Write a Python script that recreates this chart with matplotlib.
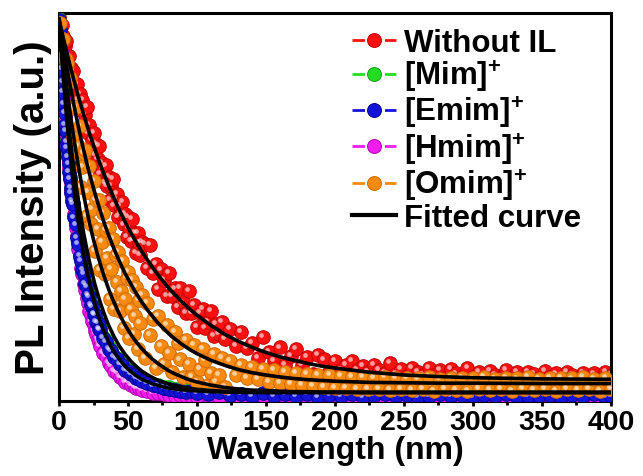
import matplotlib
matplotlib.use('Agg')
import matplotlib.pyplot as plt
import matplotlib.transforms as mtransforms
from matplotlib.lines import Line2D
from matplotlib.ticker import MultipleLocator

plt.rcParams['font.family'] = ['Liberation Sans', 'DejaVu Sans']
plt.rcParams['font.weight'] = 'bold'
plt.rcParams['mathtext.fontset'] = 'custom'
plt.rcParams['mathtext.rm'] = 'Liberation Sans:bold'
plt.rcParams['mathtext.bf'] = 'Liberation Sans:bold'

# sample grids (nm, as labelled on the chart)
x_main = list(range(0, 61)) + list(range(62, 121, 2)) + list(range(124, 401, 4))
x_fine = ([i * 0.5 for i in range(21)] + list(range(11, 31)) + list(range(32, 61, 2))
          + list(range(64, 101, 4)) + list(range(108, 400, 8)) + [400])
x_fit = [0, 2, 4, 6, 8, 10, 12, 14, 16, 18, 20, 22, 24, 26, 28, 30, 32, 34, 36, 38, 40,
         44, 48, 52, 56, 60, 64, 68, 72, 76, 80, 84, 88, 92, 96, 100,
         110, 120, 130, 140, 150, 160, 170, 180, 190, 200, 225, 250, 275, 300, 350, 400]

# measured decays
y_without = [0.990, 0.957, 0.969, 0.941, 0.914, 0.928, 0.890, 0.890, 0.849, 0.858,
             0.851, 0.818, 0.813, 0.817, 0.775, 0.791, 0.755, 0.777, 0.709, 0.736,
             0.758, 0.691, 0.712, 0.645, 0.672, 0.692, 0.633, 0.663, 0.625, 0.657,
             0.584, 0.614, 0.599, 0.562, 0.607, 0.554, 0.577, 0.517, 0.554, 0.572,
             0.504, 0.520, 0.534, 0.474, 0.503, 0.481, 0.512, 0.455, 0.482, 0.423,
             0.474, 0.445, 0.413, 0.468, 0.414, 0.434, 0.382, 0.433, 0.408, 0.376,
             0.410,
             0.405, 0.344, 0.401, 0.331, 0.352, 0.288, 0.339, 0.312, 0.270, 0.329,
             0.271, 0.290, 0.242, 0.291, 0.254, 0.228, 0.283, 0.227, 0.247, 0.191,
             0.227, 0.238, 0.189, 0.204, 0.231, 0.168, 0.199, 0.173, 0.203, 0.159,
             0.185, 0.142, 0.179, 0.136, 0.150, 0.111, 0.164, 0.127, 0.104, 0.138,
             0.092, 0.116, 0.135, 0.094, 0.113, 0.070, 0.118, 0.107, 0.075, 0.104,
             0.081, 0.093, 0.102, 0.080, 0.091, 0.074, 0.094, 0.081, 0.073, 0.098,
             0.069, 0.082, 0.064, 0.084, 0.076, 0.066, 0.086, 0.067, 0.080, 0.060,
             0.082, 0.071, 0.061, 0.085, 0.063, 0.075, 0.059, 0.078, 0.068, 0.061,
             0.079, 0.063, 0.074, 0.056, 0.076, 0.069, 0.058, 0.077, 0.061, 0.071,
             0.056, 0.076, 0.066, 0.058, 0.073, 0.061, 0.071, 0.056, 0.074, 0.067]
y_omim = [0.975, 0.974, 0.931, 0.932, 0.882, 0.881, 0.872, 0.822,
          0.833, 0.758, 0.681, 0.754, 0.759, 0.637, 0.657, 0.709, 0.551, 0.604,
          0.639, 0.648, 0.478, 0.539, 0.605, 0.455, 0.496, 0.566, 0.387, 0.519,
          0.444, 0.518, 0.337, 0.409, 0.485, 0.328, 0.442, 0.368, 0.445, 0.264,
          0.340, 0.418, 0.238, 0.377, 0.306, 0.384, 0.232, 0.283, 0.361, 0.187,
          0.262, 0.316, 0.332, 0.163, 0.237, 0.313, 0.172, 0.220, 0.295, 0.133,
          0.261, 0.200, 0.273,
          0.112, 0.253, 0.170, 0.212, 0.086, 0.218, 0.142, 0.096, 0.197, 0.125,
          0.074, 0.178, 0.150, 0.107, 0.061, 0.157, 0.096, 0.063, 0.144, 0.049,
          0.083, 0.133, 0.106, 0.042, 0.073, 0.120, 0.048, 0.067, 0.112, 0.035,
          0.102, 0.068, 0.094, 0.060, 0.088, 0.056, 0.083, 0.050, 0.079, 0.047,
          0.076, 0.044, 0.073, 0.041, 0.070, 0.038, 0.068, 0.036, 0.066, 0.034,
          0.065, 0.033, 0.063, 0.031, 0.062, 0.032, 0.060, 0.030, 0.061, 0.029,
          0.059, 0.031, 0.060, 0.028, 0.058, 0.030, 0.061, 0.027, 0.057, 0.031,
          0.059, 0.029, 0.060, 0.026, 0.058, 0.030, 0.061, 0.028, 0.057, 0.031,
          0.060, 0.027, 0.058, 0.030, 0.061, 0.028, 0.057, 0.031, 0.059, 0.026,
          0.060, 0.030, 0.058, 0.028, 0.061, 0.031, 0.057, 0.027, 0.059, 0.030]
y_mim = [0.984, 0.959, 0.929, 0.894, 0.860, 0.826, 0.801, 0.769, 0.746, 0.716,
         0.701, 0.672, 0.656, 0.632, 0.616, 0.594, 0.576, 0.552, 0.541, 0.519, 0.511,
         0.477, 0.459, 0.424, 0.409, 0.378, 0.366, 0.342, 0.331, 0.306, 0.298,
         0.278, 0.272, 0.251, 0.247, 0.228, 0.225, 0.207, 0.204, 0.190, 0.187,
         0.166, 0.157, 0.139, 0.132, 0.117, 0.112, 0.100, 0.096, 0.084, 0.082,
         0.073, 0.070, 0.063, 0.061, 0.055,
         0.051, 0.044, 0.042, 0.037, 0.036, 0.032, 0.031, 0.028, 0.029, 0.025,
         0.015, 0.019, 0.012, 0.017, 0.011, 0.016, 0.013, 0.010, 0.015, 0.012,
         0.017, 0.011, 0.014, 0.010, 0.016, 0.012, 0.015, 0.010, 0.013, 0.016,
         0.011, 0.014, 0.010, 0.015, 0.012, 0.016, 0.011, 0.013, 0.015, 0.012,
         0.014, 0.010, 0.016, 0.012, 0.015, 0.011, 0.013, 0.014]
y_emim = [0.982, 0.955, 0.925, 0.890, 0.856, 0.822, 0.797, 0.765, 0.742, 0.712,
          0.697, 0.668, 0.652, 0.628, 0.612, 0.590, 0.572, 0.548, 0.537, 0.515, 0.507,
          0.473, 0.455, 0.420, 0.405, 0.374, 0.362, 0.338, 0.327, 0.302, 0.294,
          0.274, 0.268, 0.247, 0.243, 0.224, 0.221, 0.203, 0.200, 0.186, 0.183,
          0.162, 0.153, 0.135, 0.128, 0.113, 0.108, 0.096, 0.092, 0.080, 0.078,
          0.069, 0.066, 0.059, 0.057, 0.051,
          0.047, 0.040, 0.038, 0.033, 0.032, 0.028, 0.027, 0.024, 0.025, 0.021,
          0.018, 0.022, 0.015, 0.019, 0.013, 0.020, 0.012, 0.017, 0.014, 0.019,
          0.011, 0.016, 0.013, 0.018, 0.010, 0.015, 0.017, 0.012, 0.016, 0.011,
          0.014, 0.018, 0.012, 0.015, 0.010, 0.016, 0.013, 0.017, 0.011, 0.014,
          0.012, 0.016, 0.010, 0.015, 0.013, 0.017, 0.011, 0.014]
y_hmim = [0.980, 0.962, 0.930, 0.903, 0.866, 0.840, 0.806, 0.784, 0.752, 0.731,
          0.703, 0.684, 0.660, 0.640, 0.617, 0.600, 0.578, 0.562, 0.541, 0.527, 0.508,
          0.483, 0.446, 0.425, 0.391, 0.372, 0.343, 0.327, 0.301, 0.287, 0.265,
          0.252, 0.233, 0.222, 0.205, 0.196, 0.181, 0.173, 0.159, 0.152, 0.141,
          0.125, 0.115, 0.098, 0.091, 0.077, 0.073, 0.062, 0.059, 0.050, 0.049,
          0.041, 0.040, 0.034, 0.033, 0.029,
          0.026, 0.021, 0.020, 0.017, 0.016, 0.014, 0.015, 0.012, 0.013, 0.011,
          0.012, 0.010, 0.013, 0.009, 0.011, 0.012, 0.010, 0.013, 0.009, 0.012,
          0.011, 0.010, 0.013, 0.009, 0.012, 0.010, 0.011, 0.013, 0.009, 0.012,
          0.010, 0.011, 0.012, 0.009, 0.013, 0.010, 0.012, 0.011, 0.009, 0.012,
          0.010, 0.013, 0.011, 0.009, 0.012, 0.010, 0.011, 0.012]

# fitted curves
fit_without = [0.985, 0.953, 0.923, 0.894, 0.865, 0.838, 0.811, 0.786, 0.761, 0.737, 0.714,
               0.691, 0.670, 0.649, 0.629, 0.609, 0.591, 0.573, 0.555, 0.538, 0.522,
               0.490, 0.461, 0.434, 0.409, 0.385, 0.364, 0.343, 0.324, 0.306, 0.289,
               0.274, 0.259, 0.246, 0.233, 0.221,
               0.195, 0.172, 0.154, 0.138, 0.125, 0.114, 0.105, 0.097, 0.090, 0.085,
               0.074, 0.067, 0.063, 0.060, 0.057, 0.056]
fit_omim = [0.985, 0.939, 0.896, 0.854, 0.815, 0.777, 0.742, 0.708, 0.675, 0.645, 0.615,
            0.587, 0.561, 0.536, 0.512, 0.489, 0.467, 0.446, 0.427, 0.409, 0.391,
            0.358, 0.328, 0.302, 0.277, 0.255, 0.235, 0.217, 0.200, 0.186, 0.172,
            0.160, 0.149, 0.139, 0.130, 0.122,
            0.105, 0.092, 0.081, 0.073, 0.067, 0.062, 0.058, 0.055, 0.053, 0.051,
            0.048, 0.047, 0.046, 0.046, 0.045, 0.045]
fit_mim = [0.985, 0.919, 0.857, 0.799, 0.745, 0.696, 0.649, 0.606, 0.566, 0.529, 0.494,
           0.461, 0.430, 0.402, 0.376, 0.352, 0.329, 0.308, 0.288, 0.270, 0.253,
           0.222, 0.195, 0.172, 0.152, 0.135, 0.120, 0.107, 0.096, 0.086, 0.077,
           0.070, 0.064, 0.058, 0.053, 0.049,
           0.041, 0.035, 0.031, 0.028, 0.027, 0.025, 0.024, 0.024, 0.023, 0.023,
           0.022, 0.022, 0.022, 0.022, 0.022, 0.022]
fit_emim = [0.985, 0.897, 0.818, 0.745, 0.680, 0.620, 0.566, 0.516, 0.472, 0.430, 0.394,
            0.360, 0.329, 0.301, 0.276, 0.253, 0.232, 0.213, 0.195, 0.180, 0.165,
            0.140, 0.120, 0.103, 0.089, 0.077, 0.068, 0.060, 0.053, 0.048, 0.043,
            0.040, 0.037, 0.034, 0.032, 0.030,
            0.027, 0.025, 0.024, 0.023, 0.022, 0.022, 0.022, 0.022, 0.022, 0.022,
            0.022, 0.022, 0.022, 0.022, 0.022, 0.022]
fit_hmim = [0.985, 0.884, 0.793, 0.712, 0.639, 0.575, 0.516, 0.464, 0.418, 0.376, 0.339,
            0.306, 0.276, 0.249, 0.225, 0.204, 0.185, 0.167, 0.152, 0.138, 0.126,
            0.106, 0.089, 0.076, 0.065, 0.056, 0.050, 0.044, 0.040, 0.036, 0.033,
            0.031, 0.029, 0.028, 0.027, 0.026,
            0.024, 0.023, 0.022, 0.022, 0.022, 0.022, 0.022, 0.022, 0.022, 0.022,
            0.022, 0.022, 0.022, 0.022, 0.022, 0.022]

labels = ['Without IL', r'[Mim]$^{\mathbf{+}}$', r'[Emim]$^{\mathbf{+}}$',
          r'[Hmim]$^{\mathbf{+}}$', r'[Omim]$^{\mathbf{+}}$', 'Fitted curve']
colors = ['#ff1010', '#22dd22', '#1414d8', '#f01cf0', '#f98a10']
edges = ['#c00000', '#10a010', '#00009a', '#b000b0', '#d06a00']

fig = plt.figure(figsize=(6.43, 4.77), dpi=100)
ax = fig.add_axes([59 / 643, 1 - 402 / 477, 552 / 643, 388 / 477])

# small white spot on each ball, shifted up-left
hl = mtransforms.offset_copy(ax.transData, fig=fig, x=-1.4, y=1.4, units='points')


def balls(x, y, c, ec, z):
    ax.plot(x, y, 'o', ls='none', ms=9.8, mfc=c, mec=ec, mew=0.7, zorder=z)
    ax.plot(x, y, 'o', ls='none', ms=3.4, mfc='white', mec='none', alpha=0.6,
            zorder=z + 0.1, transform=hl)


balls(x_main, y_without, colors[0], edges[0], 2)
balls(x_fine, y_mim, colors[1], edges[1], 3)
balls(x_fine, y_hmim, colors[3], edges[3], 4)
balls(x_fine, y_emim, colors[2], edges[2], 5)
balls(x_main, y_omim, colors[4], edges[4], 6)

for f in [fit_without, fit_omim, fit_mim, fit_emim, fit_hmim]:
    ax.plot(x_fit, f, color='black', lw=2.6, zorder=8, solid_capstyle='round')

ax.set_xlim(0, 400)
ax.set_ylim(0, 1)
ax.xaxis.set_major_locator(MultipleLocator(50))
ax.xaxis.set_minor_locator(MultipleLocator(25))
ax.tick_params(axis='x', which='major', direction='out', length=3.8, width=2,
               labelsize=20.5, pad=2)
ax.tick_params(axis='x', which='minor', direction='out', length=2.8, width=2)
ax.tick_params(axis='y', left=False, labelleft=False)
for s in ax.spines.values():
    s.set_linewidth(2.2)

ax.set_xlabel('Wavelength (nm)', fontsize=23, fontweight='bold', labelpad=0)
ax.set_ylabel('PL Intensity (a.u.)', fontsize=29, fontweight='bold')
ax.yaxis.set_label_coords(-0.012, 0.5)

handles = []
for c, ec in zip(colors, edges):
    handles.append(Line2D([], [], color=c, lw=2, ls=(0, (4.5, 7.2)), marker='o',
                          ms=10, mfc=c, mec=ec, mew=0.7))
handles.append(Line2D([], [], color='black', lw=3))
leg = ax.legend(handles, labels, loc='upper left', bbox_to_anchor=(0.531, 0.962),
                frameon=False, fontsize=22.5, handlelength=1.42, handletextpad=0.25,
                labelspacing=0.0, borderpad=0, borderaxespad=0, numpoints=1)
leg.set_zorder(20)

fig.savefig('out.png', dpi=100)
